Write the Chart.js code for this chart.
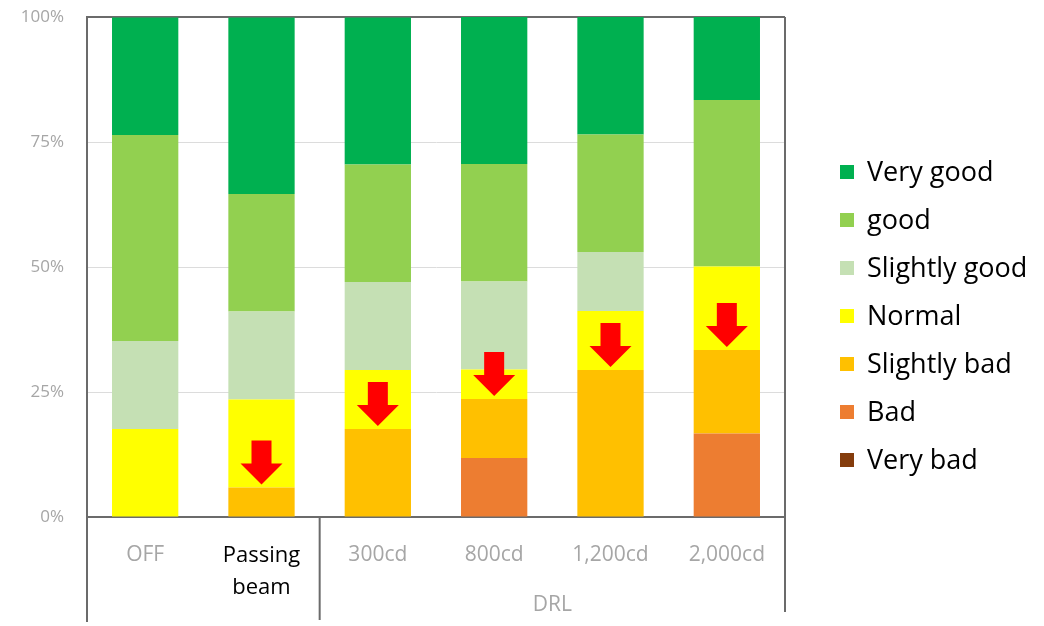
<!DOCTYPE html>
<html>
<head>
<meta charset="utf-8">
<script src="https://cdn.jsdelivr.net/npm/chart.js@4.4.1/dist/chart.umd.min.js"></script>
<style>
    html, body { margin: 0; padding: 0; background: #ffffff; }
    #wrap { width: 1044px; height: 626px; }
</style>
</head>
<body>
<div id="wrap"><canvas id="evaluation-chart" width="1044" height="626"></canvas></div>
<script>
// Categorias e rótulos
const categorias = ['OFF', ['Passing', 'beam'], '300cd', '800cd', '1,200cd', '2,000cd'];
const grupoDRL = 'DRL';
const grupoInicio = 2;   // primeiro índice do grupo DRL
const grupoFim = 5;      // último índice do grupo DRL
const ticksY = [0, 25, 50, 75, 100];

// Percentual de respostas por categoria (de baixo para cima)
const muitoRuim = [0, 0, 0, 0, 0, 0];
const ruim = [0, 0, 0, 11.8, 0, 16.7];
const poucoRuim = [0, 5.9, 17.6, 11.8, 29.4, 16.7];
const normal = [17.6, 17.6, 11.8, 5.9, 11.8, 16.7];
const poucoBom = [17.6, 17.6, 17.6, 17.6, 11.8, 0];
const bom = [41.2, 23.5, 23.5, 23.5, 23.5, 33.3];
const muitoBom = [23.5, 35.3, 29.4, 29.4, 23.5, 16.7];

// Categorias que recebem a seta vermelha
const comSeta = [1, 2, 3, 4, 5];

const series = [
    { label: 'Very bad', data: muitoRuim, cor: '#843c0c' },
    { label: 'Bad', data: ruim, cor: '#ed7d31' },
    { label: 'Slightly bad', data: poucoRuim, cor: '#ffc000' },
    { label: 'Normal', data: normal, cor: '#ffff00' },
    { label: 'Slightly good', data: poucoBom, cor: '#c5e0b4' },
    { label: 'good', data: bom, cor: '#92d050' },
    { label: 'Very good', data: muitoBom, cor: '#00b050' }
];

const FONTE = '"Open Sans", "Noto Sans", sans-serif';
const CINZA = '#a6a6a6';
const LINHA = '#6b6b6b';

// Plugin: moldura, rótulo DRL, setas e legenda
const extras = {
    id: 'extras',
    afterDatasetsDraw(chart) {
        const ctx = chart.ctx;
        const x = chart.scales.x;
        const y = chart.scales.y;
        ctx.save();
        ctx.fillStyle = '#ff0000';
        comSeta.forEach(i => {
            const base = muitoRuim[i] + ruim[i] + poucoRuim[i];
            const cx = x.getPixelForValue(i);
            const ponta = y.getPixelForValue(base) - 3;
            ctx.beginPath();
            ctx.moveTo(cx, ponta);
            ctx.lineTo(cx - 21, ponta - 21);
            ctx.lineTo(cx - 10, ponta - 21);
            ctx.lineTo(cx - 10, ponta - 44);
            ctx.lineTo(cx + 10, ponta - 44);
            ctx.lineTo(cx + 10, ponta - 21);
            ctx.lineTo(cx + 21, ponta - 21);
            ctx.closePath();
            ctx.fill();
        });
        ctx.restore();
    },
    afterDraw(chart) {
        const ctx = chart.ctx;
        const area = chart.chartArea;
        const x = chart.scales.x;
        ctx.save();
        ctx.strokeStyle = LINHA;
        ctx.lineWidth = 2;
        // linhas verticais da moldura e separador
        const sep = (x.getPixelForValue(grupoInicio - 1) + x.getPixelForValue(grupoInicio)) / 2;
        ctx.beginPath();
        ctx.moveTo(area.left, area.bottom);
        ctx.lineTo(area.left, 622);
        ctx.moveTo(sep, area.bottom);
        ctx.lineTo(sep, 620);
        ctx.moveTo(area.right, area.top);
        ctx.lineTo(area.right, 612);
        ctx.stroke();

        // rótulo do grupo
        ctx.fillStyle = CINZA;
        ctx.font = '21px ' + FONTE;
        ctx.textAlign = 'center';
        ctx.textBaseline = 'middle';
        const meio = (x.getPixelForValue(grupoInicio) + x.getPixelForValue(grupoFim)) / 2;
        ctx.fillText(grupoDRL, meio, 605);

        // legenda (ordem de cima para baixo)
        ctx.textAlign = 'left';
        ctx.font = '27px ' + FONTE;
        const lista = series.slice().reverse();
        lista.forEach((s, k) => {
            const ly = 172 + k * 48;
            ctx.fillStyle = s.cor;
            ctx.fillRect(area.right + 55, ly - 7, 14, 14);
            ctx.fillStyle = '#000000';
            ctx.fillText(s.label, area.right + 82, ly + 1);
        });
        ctx.restore();
    }
};

new Chart(document.getElementById('evaluation-chart').getContext('2d'), {
    type: 'bar',
    data: {
        labels: categorias,
        datasets: series.map(s => ({
            label: s.label,
            data: s.data,
            backgroundColor: s.cor,
            borderWidth: 0,
            barPercentage: 0.57,
            categoryPercentage: 1
        }))
    },
    options: {
        responsive: false,
        animation: false,
        layout: {
            padding: { top: 17, right: 259, left: 0, bottom: 0 }
        },
        plugins: {
            legend: { display: false },
            tooltip: { enabled: false }
        },
        scales: {
            x: {
                stacked: true,
                grid: { display: false, drawTicks: false },
                border: { color: LINHA, width: 2 },
                ticks: {
                    padding: 23,
                    maxRotation: 0,
                    autoSkip: false,
                    color: c => c.index === 1 ? '#000000' : CINZA,
                    font: c => ({ family: FONTE, size: c.index === 1 ? 22 : 21, lineHeight: 1.45 })
                },
                afterFit(scale) { scale.height = 109; }
            },
            y: {
                stacked: true,
                min: 0,
                max: 100,
                afterBuildTicks(scale) { scale.ticks = ticksY.map(v => ({ value: v })); },
                ticks: {
                    color: CINZA,
                    padding: 0,
                    font: { family: FONTE, size: 17 },
                    callback: v => v + '%'
                },
                grid: {
                    drawTicks: true,
                    tickLength: 23,
                    tickColor: 'rgba(0,0,0,0)',
                    color: c => c.tick.value === 100 ? LINHA : (c.tick.value === 0 ? 'rgba(0,0,0,0)' : '#dcdcdc'),
                    lineWidth: c => c.tick.value === 100 ? 2 : 1
                },
                border: { color: LINHA, width: 2 },
                afterFit(scale) { scale.width = 87; }
            }
        }
    },
    plugins: [extras]
});
</script>
</body>
</html>
